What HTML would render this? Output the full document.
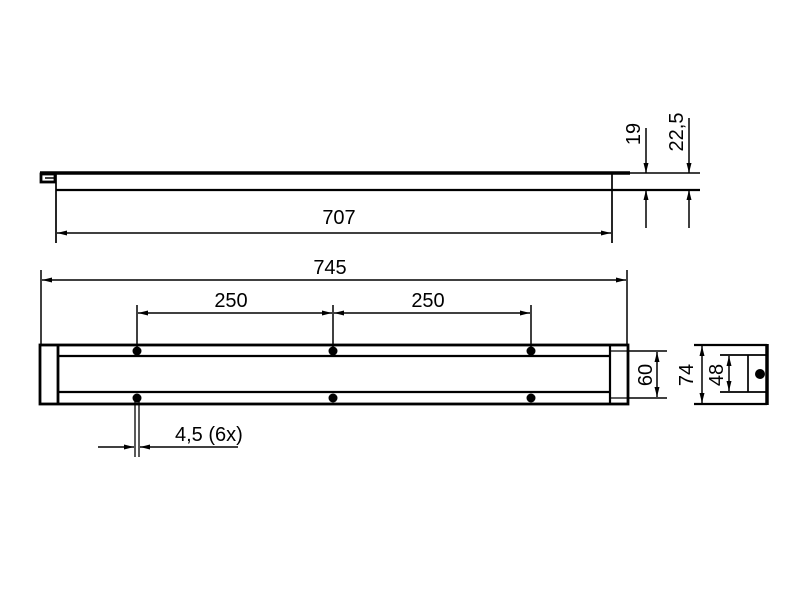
<!DOCTYPE html>
<html><head><meta charset="utf-8"><style>
html,body{margin:0;padding:0;background:#fff;}
svg text{font-family:"Liberation Sans Narrow","Liberation Sans",sans-serif;font-size:20px;fill:#000;}
</style></head><body>
<svg width="800" height="600" viewBox="0 0 800 600" xmlns="http://www.w3.org/2000/svg">
<defs>
<marker id="a" viewBox="0 0 12 6" refX="12" refY="3" markerWidth="12" markerHeight="5" orient="auto-start-reverse" markerUnits="userSpaceOnUse"><path d="M0,0 L12,3 L0,6z" fill="#000"/></marker>
</defs>
<g stroke="#000" fill="none">
<line x1="40" y1="173" x2="630" y2="173" stroke-width="3.5"/>
<line x1="630" y1="173" x2="700" y2="173" stroke-width="1.5"/>
<line x1="56" y1="190" x2="700" y2="190" stroke-width="2.2"/>
<rect x="41" y="174" width="14" height="8" stroke-width="2.8"/>
<line x1="45" y1="178" x2="55" y2="178" stroke-width="1.5"/>
<line x1="56" y1="173" x2="56" y2="243" stroke-width="1.7"/>
<line x1="612" y1="173" x2="612" y2="243" stroke-width="1.7"/>
<line x1="57" y1="233" x2="611" y2="233" stroke-width="1.5" marker-start="url(#a)" marker-end="url(#a)"/>
<line x1="646" y1="128" x2="646" y2="173" stroke-width="1.5" marker-end="url(#a)"/>
<line x1="646" y1="228" x2="646" y2="190" stroke-width="1.5" marker-end="url(#a)"/>
<line x1="689" y1="118" x2="689" y2="173" stroke-width="1.5" marker-end="url(#a)"/>
<line x1="689" y1="228" x2="689" y2="190" stroke-width="1.5" marker-end="url(#a)"/>
<line x1="41" y1="270" x2="41" y2="345" stroke-width="1.5"/>
<line x1="627" y1="270" x2="627" y2="345" stroke-width="1.5"/>
<line x1="42" y1="280" x2="626" y2="280" stroke-width="1.5" marker-start="url(#a)" marker-end="url(#a)"/>
<line x1="137" y1="305" x2="137" y2="350" stroke-width="1.5"/>
<line x1="333" y1="305" x2="333" y2="350" stroke-width="1.5"/>
<line x1="531" y1="305" x2="531" y2="350" stroke-width="1.5"/>
<line x1="138" y1="313" x2="332" y2="313" stroke-width="1.5" marker-start="url(#a)" marker-end="url(#a)"/>
<line x1="334" y1="313" x2="530" y2="313" stroke-width="1.5" marker-start="url(#a)" marker-end="url(#a)"/>
<rect x="40" y="345" width="588" height="59" stroke-width="2.8"/>
<line x1="58" y1="345" x2="58" y2="404" stroke-width="2.8"/>
<line x1="58" y1="356" x2="610" y2="356" stroke-width="2.3"/>
<line x1="58" y1="392" x2="610" y2="392" stroke-width="2.3"/>
<line x1="610" y1="345" x2="610" y2="404" stroke-width="2.2"/>
<line x1="610" y1="351" x2="628" y2="351" stroke-width="1.3"/>
<line x1="610" y1="398" x2="628" y2="398" stroke-width="1.3"/>
<line x1="135" y1="398" x2="135" y2="457" stroke-width="1.3"/>
<line x1="139" y1="398" x2="139" y2="457" stroke-width="1.3"/>
<line x1="98" y1="447" x2="134" y2="447" stroke-width="1.5" marker-end="url(#a)"/>
<line x1="238" y1="447" x2="140" y2="447" stroke-width="1.5" marker-end="url(#a)"/>
<line x1="628" y1="351" x2="667" y2="351" stroke-width="1.5"/>
<line x1="628" y1="398" x2="667" y2="398" stroke-width="1.5"/>
<line x1="657" y1="352" x2="657" y2="397" stroke-width="1.5" marker-start="url(#a)" marker-end="url(#a)"/>
<line x1="694" y1="345" x2="767" y2="345" stroke-width="2.2"/>
<line x1="694" y1="404" x2="767" y2="404" stroke-width="2.2"/>
<line x1="767" y1="344" x2="767" y2="405" stroke-width="3.5"/>
<line x1="720" y1="355" x2="767" y2="355" stroke-width="1.7"/>
<line x1="720" y1="392" x2="767" y2="392" stroke-width="1.7"/>
<line x1="748" y1="355" x2="748" y2="392" stroke-width="1.7"/>
<line x1="702" y1="346" x2="702" y2="403" stroke-width="1.5" marker-start="url(#a)" marker-end="url(#a)"/>
<line x1="729" y1="356" x2="729" y2="391" stroke-width="1.5" marker-start="url(#a)" marker-end="url(#a)"/>
</g>
<g fill="#000">
<circle cx="137" cy="351" r="4.5"/><circle cx="333" cy="351" r="4.5"/><circle cx="531" cy="351" r="4.5"/>
<circle cx="137" cy="398" r="4.5"/><circle cx="333" cy="398" r="4.5"/><circle cx="531" cy="398" r="4.5"/>
<circle cx="760" cy="374" r="5"/>
</g>
<text x="339" y="224" text-anchor="middle">707</text>
<text x="330" y="274" text-anchor="middle">745</text>
<text x="231" y="307" text-anchor="middle">250</text>
<text x="428" y="307" text-anchor="middle">250</text>
<text x="175" y="441">4,5 (6x)</text>
<text transform="translate(640,134) rotate(-90)" text-anchor="middle">19</text>
<text transform="translate(683,132) rotate(-90)" text-anchor="middle">22,5</text>
<text transform="translate(652,375) rotate(-90)" text-anchor="middle">60</text>
<text transform="translate(693,375) rotate(-90)" text-anchor="middle">74</text>
<text transform="translate(723,375) rotate(-90)" text-anchor="middle">48</text>
</svg>
</body></html>
